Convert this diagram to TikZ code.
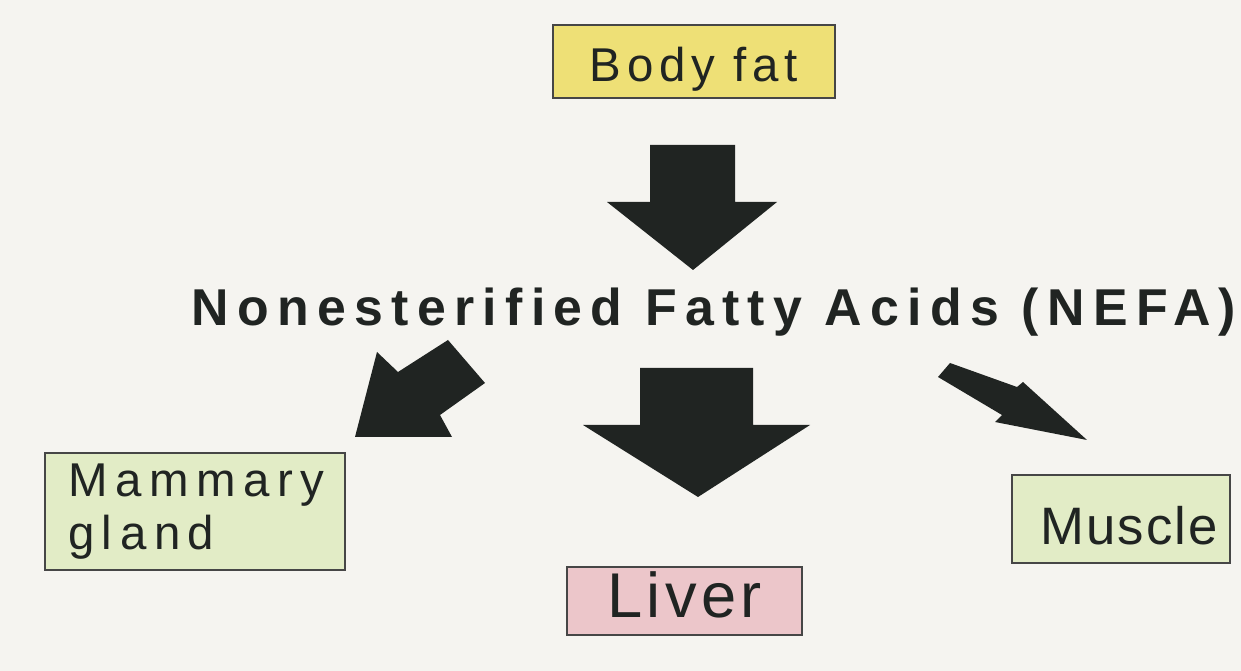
\documentclass[tikz,border=0pt]{standalone}
\usepackage{fontspec}
\setmainfont{Liberation Sans}

\definecolor{paper}{RGB}{245,244,240}
\definecolor{fatyellow}{RGB}{238,224,118}
\definecolor{tissuegreen}{RGB}{226,236,198}
\definecolor{liverpink}{RGB}{236,198,202}
\definecolor{boxline}{RGB}{70,70,70}
\definecolor{inkblack}{RGB}{32,36,34}

\begin{document}
\begin{tikzpicture}[
    x=0.02cm, y=-0.02cm,
    box/.style={
        rectangle,
        draw=boxline,
        line width=0.8pt,
        inner sep=0pt,
        text=inkblack,
    },
    blockarrow/.style={fill=inkblack},
]

% paper
\useasboundingbox (0,0) rectangle (1241,671);
\fill[paper] (0,0) rectangle (1241,671);

\node (bodyfat) [box, fill=fatyellow, minimum width=5.64cm, minimum height=1.46cm,
    text height=0.82cm, text depth=0pt,
    font=\fontsize{27}{30}\selectfont\addfontfeatures{LetterSpace=12}]
    at (694,61.5) {Body fat};

\node (nefa) [anchor=base, text=inkblack,
    font=\bfseries\fontsize{29.5}{32}\selectfont\addfontfeatures{LetterSpace=16}]
    at (714,326) {Nonesterified Fatty Acids (NEFA)};

\node (mammary) [box, fill=tissuegreen, minimum width=6cm, minimum height=2.34cm,
    inner xsep=0.46cm, text width=5.08cm, align=left,
    font=\fontsize{27}{30.2}\selectfont\addfontfeatures{LetterSpace=16}]
    at (195,511.5) {Mammary\\gland};

\node (liver) [box, fill=liverpink, minimum width=4.7cm, minimum height=1.36cm,
    text height=0.68cm, text depth=0pt,
    font=\fontsize{36}{40}\selectfont\addfontfeatures{LetterSpace=7}]
    at (684.5,601) {Liver};

\node (muscle) [box, fill=tissuegreen, minimum width=4.36cm, minimum height=1.76cm,
    inner xsep=0.24cm, text width=3.88cm, align=right,
    text height=1.04cm, text depth=0pt,
    font=\fontsize{30}{33}\selectfont\addfontfeatures{LetterSpace=4}]
    at (1121,519) {Muscle};

% block arrows
\fill[blockarrow] (650,145) -- (735,145) -- (735,202) -- (777,202) -- (693,270)
    -- (607,202) -- (650,202) -- cycle;
\fill[blockarrow] (640,368) -- (753,368) -- (753,425) -- (810,425) -- (698,497)
    -- (583,425) -- (640,425) -- cycle;
\fill[blockarrow] (355,437) -- (377,352) -- (398,372) -- (448,340) -- (485,383)
    -- (440,415) -- (452,437) -- cycle;
\fill[blockarrow] (950,363) -- (1017,387) -- (1023,382) -- (1087,440) -- (995,422)
    -- (1002,415) -- (938,377) -- cycle;

\end{tikzpicture}
\end{document}
